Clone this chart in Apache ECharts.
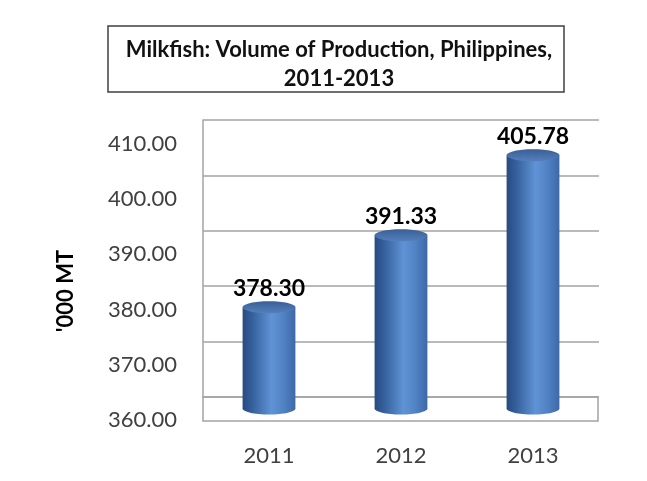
<!DOCTYPE html>
<html>
<head>
<meta charset="utf-8">
<script src="https://cdn.jsdelivr.net/npm/echarts@6/dist/echarts.min.js"></script>
<style>
html,body{margin:0;padding:0;background:#fff;}
#chart{width:647px;height:481px;}
</style>
</head>
<body>
<div id="chart"></div>
<script>
const categories = ['2011', '2012', '2013'];
const values = [378.30, 391.33, 405.78];
const yMin = 360, yMax = 410, yInterval = 10;
const titleText = 'Milkfish: Volume of Production, Philippines,\n2011-2013';
const yAxisTitle = "'000 MT";

const FONT = 'Lato';
const gridColor = '#a3a3a3';

const chart = echarts.init(document.getElementById('chart'), null, {renderer: 'canvas'});

const bodyGrad = new echarts.graphic.LinearGradient(0, 0, 1, 0, [
  {offset: 0, color: '#284a80'},
  {offset: 0.18, color: '#35609c'},
  {offset: 0.55, color: '#6093d6'},
  {offset: 0.8, color: '#4f80c2'},
  {offset: 1, color: '#3d68a6'}
]);
const topGrad = new echarts.graphic.LinearGradient(0, 0, 0, 1, [
  {offset: 0, color: '#3a5f96'},
  {offset: 1, color: '#5480bd'}
]);

const option = {
  backgroundColor: '#fff',
  animation: false,
  title: {
    text: titleText,
    left: 334,
    top: 30,
    textAlign: 'center',
    textStyle: {fontFamily: FONT, fontSize: 22, fontWeight: 'bold', color: '#111', lineHeight: 29}
  },
  graphic: [
    {type: 'rect', z: -1, shape: {x: 108, y: 26, width: 456, height: 66}, style: {fill: '#fff', stroke: '#404040', lineWidth: 1.5}},
    {type: 'rect', shape: {x: 203, y: 397, width: 395, height: 24}, style: {fill: 'none', stroke: gridColor, lineWidth: 1.5}},
    {type: 'text', x: 66, y: 291, rotation: Math.PI / 2,
      style: {text: yAxisTitle, fontFamily: FONT, fontSize: 22, fontWeight: 'bold', fill: '#000', align: 'center', verticalAlign: 'middle'}}
  ],
  grid: [
    {left: 203, top: 120, width: 396, height: 277},
    {left: 203, top: 144, width: 396, height: 276},
    {left: 203, top: 132, width: 396, height: 276.5}
  ],
  xAxis: [
    {type: 'category', data: categories, gridIndex: 0, show: false},
    {type: 'category', data: categories, gridIndex: 1,
      axisLine: {show: false}, axisTick: {show: false},
      axisLabel: {margin: 25, fontFamily: FONT, fontSize: 22, color: '#404040'}},
    {type: 'category', data: categories, gridIndex: 2, show: false}
  ],
  yAxis: [
    {type: 'value', gridIndex: 0, min: yMin, max: yMax, interval: yInterval,
      axisLine: {show: true, lineStyle: {color: gridColor, width: 1.5}},
      axisTick: {show: false}, axisLabel: {show: false},
      splitLine: {show: true, lineStyle: {color: gridColor, width: 1.5}}},
    {type: 'value', gridIndex: 1, min: yMin, max: yMax, interval: yInterval,
      axisLine: {show: false}, axisTick: {show: false}, splitLine: {show: false},
      axisLabel: {margin: 26, fontFamily: FONT, fontSize: 22, color: '#404040', formatter: v => v.toFixed(2)}},
    {type: 'value', gridIndex: 2, min: yMin, max: yMax, interval: yInterval, show: false, splitLine: {show: false}}
  ],
  series: [{
    type: 'custom',
    xAxisIndex: 2,
    yAxisIndex: 2,
    encode: {x: 0, y: 1},
    data: values.map((v, i) => [i, v]),
    renderItem: function (params, api) {
      const top = api.coord([api.value(0), api.value(1)]);
      const base = api.coord([api.value(0), yMin]);
      const w = api.size([1, 0])[0] * 0.4;
      const rx = w / 2, ry = 6;
      const cx = top[0];
      return {
        type: 'group',
        children: [
          {type: 'ellipse', shape: {cx: cx, cy: base[1], rx: rx, ry: ry}, style: {fill: bodyGrad}},
          {type: 'rect', shape: {x: cx - rx, y: top[1], width: w, height: base[1] - top[1]}, style: {fill: bodyGrad}},
          {type: 'ellipse', shape: {cx: cx, cy: top[1], rx: rx, ry: ry}, style: {fill: topGrad}},
          {type: 'text', x: cx, y: top[1] - 19,
            style: {text: api.value(1).toFixed(2), fontFamily: FONT, fontSize: 23, fontWeight: 'bold', fill: '#000', align: 'center', verticalAlign: 'middle'}}
        ]
      };
    }
  }]
};
chart.setOption(option);
</script>
</body>
</html>
